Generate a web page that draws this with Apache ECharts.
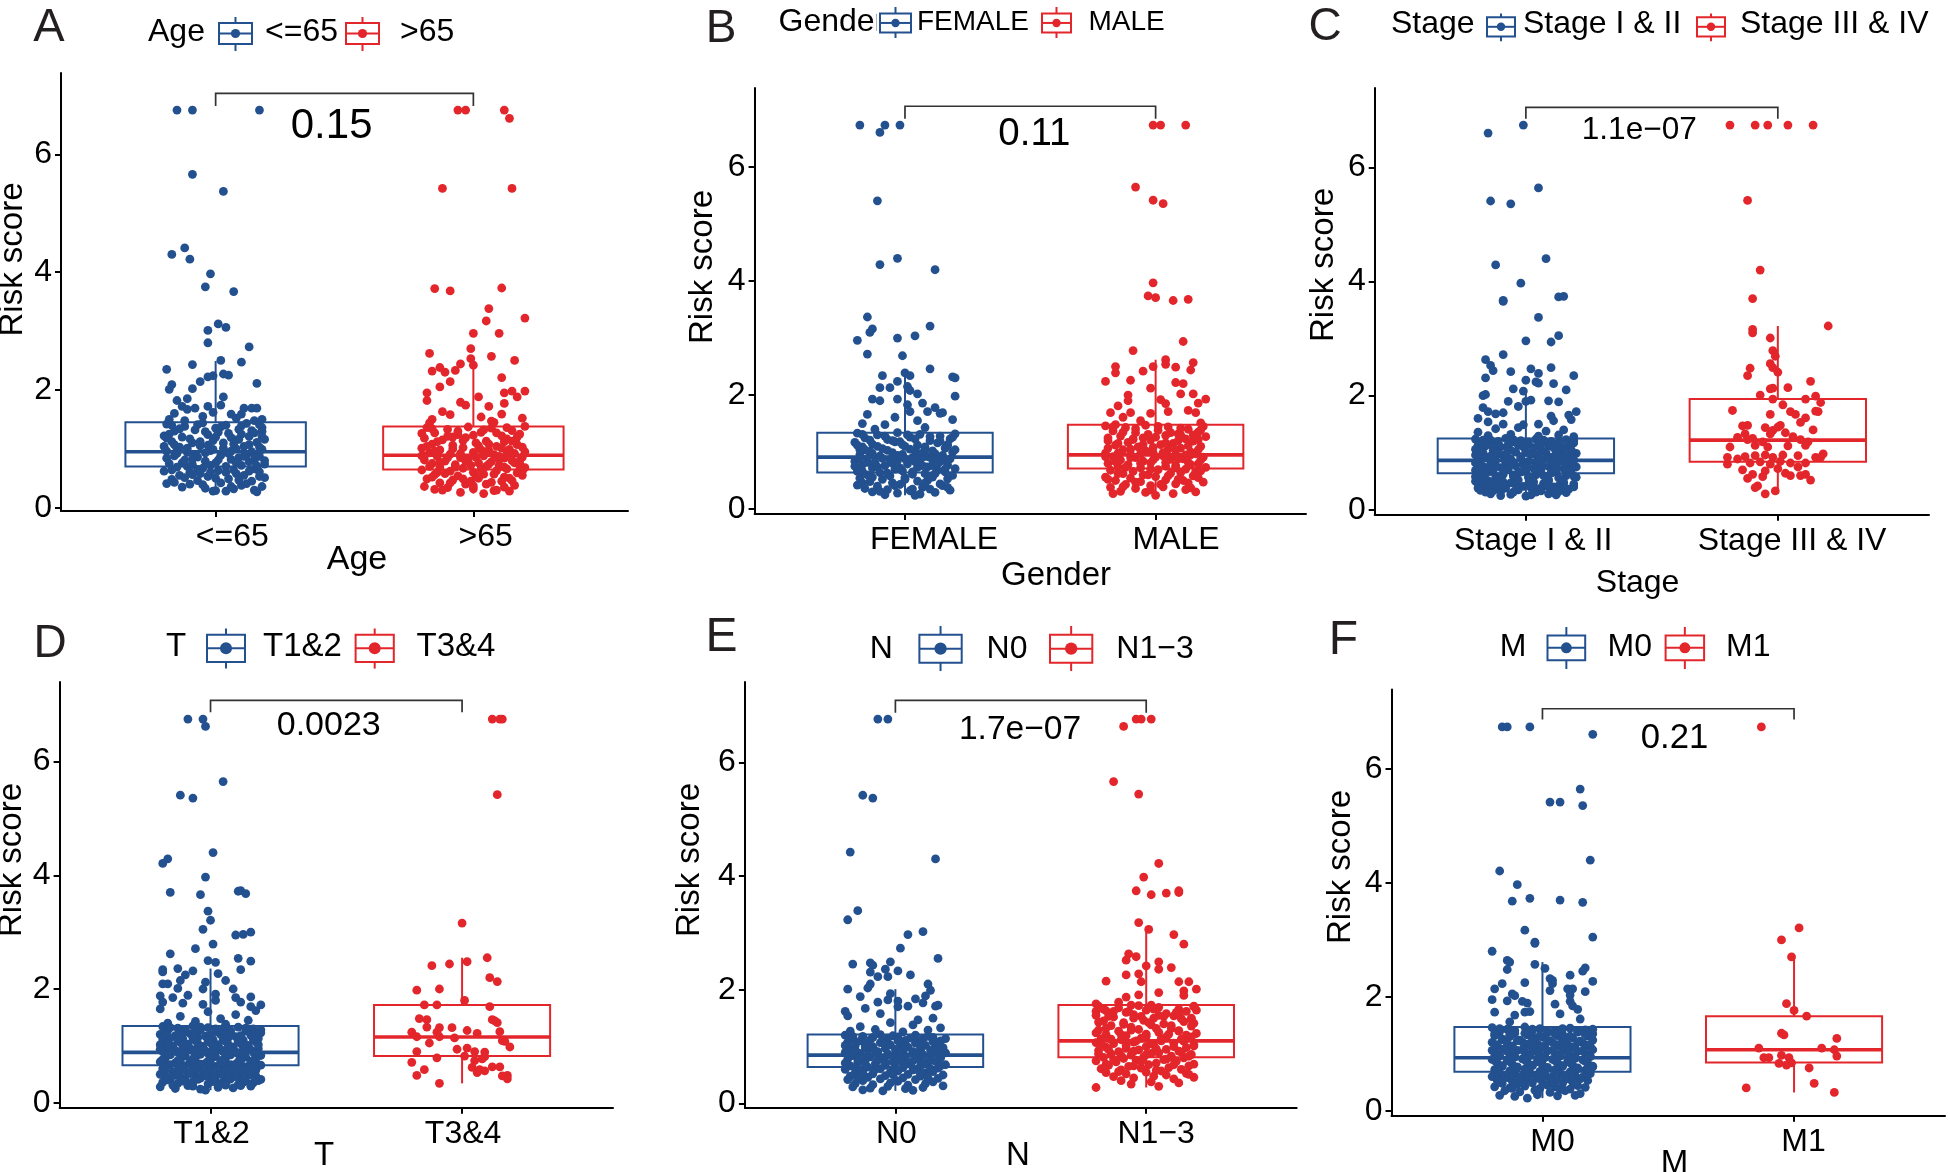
<!DOCTYPE html>
<html><head><meta charset="utf-8">
<script src="https://cdn.jsdelivr.net/npm/echarts@6/dist/echarts.min.js"></script>
<style>html,body{margin:0;padding:0;background:#fff}#c{width:1950px;height:1172px}</style>
</head><body><div id="c"></div>
<script>
// ---------------- DATA ----------------
const panelLetters = ['A','B','C','D','E','F'];
const groupTitles = ['Age','Gender','Stage','T','N','M'];
const categories = [['<=65','>65'],['FEMALE','MALE'],['Stage I & II','Stage III & IV'],['T1&2','T3&4'],['N0','N1\u22123'],['M0','M1']];
const pValues = ['0.15','0.11','1.1e\u221207','0.0023','1.7e\u221207','0.21'];
const yTickValues = [0,2,4,6];
// box stats per panel: [lower whisker, Q1, median, Q3, upper whisker]
const boxAge = [[0.27,0.70,0.95,1.45,2.49],[0.24,0.65,0.89,1.38,2.42]];
const boxGender = [[0.24,0.64,0.91,1.34,2.38],[0.24,0.71,0.95,1.48,2.62]];
const boxStage = [[0.24,0.64,0.865,1.25,2.12],[0.28,0.84,1.22,1.94,3.22]];
const boxT = [[0.22,0.66,0.885,1.35,2.36],[0.34,0.82,1.155,1.72,2.55]];
const boxN = [[0.22,0.64,0.85,1.21,2.01],[0.28,0.81,1.10,1.73,3.06]];
const boxM = [[0.22,0.685,0.93,1.47,2.61],[0.32,0.845,1.07,1.66,2.70]];
// points: [jitter offset from category, risk score]
const ptsAgeLo = [[-.15,6.75],[-.09,6.75],[.17,6.75],[-.09,5.66],[.03,5.37],[-.12,4.41],[-.17,4.30],[-.10,4.22],[-.02,3.97],[-.04,3.75],[.07,3.67],[.01,3.12],[.04,3.06],[-.03,3.01],[-.03,2.80],[.13,2.73],[-.19,2.35],[-.09,2.43],[.02,2.50],[.10,2.47],[.03,2.27],[.05,2.25],[-.01,2.24],[-.06,2.14],[.16,2.11],[-.17,2.09],[-.18,2.01],[-.09,2.02],[-.03,2.22],[-.13,1.72],[-.15,1.82],[-.11,1.85],[.03,1.88],[-.03,1.72],[.02,1.74],[.11,1.69],[.14,1.69],[.16,1.69],[-.08,1.69],[-.11,1.67],[.10,1.59],[.06,1.59],[.18,1.50],[-.18,1.50],[.15,1.48],[-.05,1.55],[.08,1.52],[-.01,1.62],[-.16,1.60],
[-.19,1.42],[-.12,1.38],[-.05,1.44],[.04,1.40],[.12,1.43],[.18,1.36],[-.16,1.30],[-.08,1.32],[.01,1.28],[.09,1.33],[.15,1.27],[-.2,1.22],[-.13,1.20],[-.03,1.24],[.06,1.19],[.13,1.21],[.19,1.16],[-.17,1.12],[-.09,1.10],[-.01,1.14],[.07,1.08],[.16,1.11],[-.14,1.03],[-.06,1.05],[.03,1.01],[.11,1.04],[.18,0.99],[-.19,0.96],[-.11,0.94],[-.02,0.97],[.05,0.92],[.14,0.95],[-.16,0.88],[-.07,0.86],[.02,0.89],[.09,0.85],[.17,0.87],[-.12,0.81],[-.04,0.79],[.06,0.82],[.13,0.78],[-.18,0.75],[-.09,0.73],[.0,0.76],[.1,0.72],[.19,0.74],[-.15,0.69],[-.05,0.67],[.04,0.70],[.15,0.66],[-.2,0.62],[-.1,0.60],[.01,0.63],[.08,0.58],[.17,0.61],[-.14,0.55],[-.03,0.53],[.11,0.55],[.19,0.51],[-.17,0.48],[-.07,0.46],[.05,0.49],[.14,0.45],[-.19,0.41],[-.1,0.40],[.02,0.42],[.1,0.38],[.18,0.36],[-.13,0.35],[-.04,0.33],[.07,0.32],[.15,0.30],[.0,0.29],[-.01,0.28],[.04,0.28],[.16,0.27],[-.08,0.90],[.08,1.15],[-.12,1.48],[.12,0.90],[-.15,1.00],[.0,1.35],[-.06,0.58],[.07,0.64],[.18,1.30],[-.18,1.25],[.1,1.25],[-.03,1.06],[.15,0.80],[-.11,0.70],
[-.17,1.40],[-.07,1.41],[.02,1.37],[.1,1.39],[.17,1.41],[-.14,1.34],[-.04,1.29],[.05,1.26],[.14,1.31],[-.19,1.18],[-.1,1.17],[.0,1.20],[.09,1.16],[.18,1.21],[-.16,1.07],[-.06,1.12],[.03,1.10],[.13,1.07],[-.2,1.04],[-.11,1.01],[-.01,0.99],[.08,1.00],[.17,1.03],[-.15,0.92],[-.04,0.93],[.06,0.96],[.15,0.90],[-.19,0.84],[-.09,0.83],[.01,0.81],[.11,0.87],[.19,0.80],[-.13,0.76],[-.02,0.72],[.08,0.76],[.16,0.71],[-.17,0.64],[-.07,0.65],[.04,0.60],[.13,0.62],[-.12,0.51],[.0,0.50],[.09,0.47],[-.16,0.43],[-.05,0.39],[.06,0.36],[.12,0.41],[-.02,0.60],[.17,0.53],[-.09,0.56]];
const ptsAgeHi = [[-.06,6.75],[-.03,6.75],[.12,6.75],[.14,6.61],[-.12,5.42],[.15,5.42],[-.15,3.72],[-.09,3.68],[.11,3.73],[.06,3.38],[.05,3.17],[.2,3.22],[.0,2.96],[.1,2.96],[-.17,2.62],[-.01,2.70],[.07,2.57],[.16,2.50],[-.01,2.53],[-.05,2.44],[.0,2.42],[-.16,2.32],[-.13,2.38],[-.11,2.30],[-.07,2.33],[-.09,2.14],[.11,2.21],[-.18,1.95],[-.13,2.05],[.15,1.98],[.2,1.98],[.12,1.95],[.17,1.88],[.02,1.88],[-.18,1.82],[-.05,1.79],[-.03,1.74],[.06,1.72],[.12,1.77],[-.12,1.63],[.03,1.54],[.11,1.59],[-.16,1.50],[.19,1.52],[-.09,1.58],[.07,1.47],
[-.18,1.36],[-.1,1.33],[-.02,1.37],[.07,1.35],[.15,1.31],[.2,1.38],[-.15,1.27],[-.06,1.24],[.03,1.28],[.11,1.22],[.18,1.25],[-.19,1.18],[-.12,1.15],[-.03,1.19],[.05,1.13],[.13,1.17],[-.16,1.08],[-.08,1.06],[.01,1.10],[.09,1.04],[.17,1.07],[-.2,1.01],[-.13,0.98],[-.04,1.02],[.06,0.97],[.14,0.99],[.2,0.95],[-.17,0.93],[-.09,0.91],[.0,0.94],[.08,0.90],[.16,0.92],[-.14,0.87],[-.05,0.85],[.04,0.88],[.12,0.84],[.19,0.86],[-.19,0.81],[-.11,0.79],[-.02,0.82],[.07,0.78],[.15,0.80],[-.16,0.75],[-.07,0.73],[.02,0.76],[.1,0.72],[.18,0.74],[-.13,0.69],[-.04,0.67],[.05,0.70],[.13,0.66],[-.2,0.64],[-.09,0.62],[.0,0.60],[.09,0.63],[.17,0.59],[-.15,0.56],[-.06,0.54],[.04,0.57],[.12,0.52],[.19,0.55],[-.18,0.49],[-.08,0.47],[.02,0.50],[.11,0.45],[-.13,0.42],[-.03,0.40],[.07,0.43],[.16,0.38],[-.19,0.36],[-.1,0.34],[.0,0.32],[.09,0.30],[.14,0.28],[-.05,0.26],[.04,0.24],[-.12,0.30],[.15,0.46],[-.17,1.44],[.08,1.45],[-.01,0.72],[.12,1.12],[-.08,1.20],[.18,0.65],[-.2,0.88],[.03,0.98],[-.14,0.60],[.1,0.82],
[-.16,1.34],[-.06,1.30],[.04,1.32],[.13,1.36],[-.2,1.26],[-.1,1.21],[.0,1.23],[.09,1.27],[.17,1.20],[-.14,1.12],[-.04,1.14],[.06,1.08],[.15,1.13],[-.18,1.04],[-.08,1.00],[.02,1.05],[.11,1.01],[.19,1.03],[-.15,0.96],[-.05,0.92],[.05,0.95],[.13,0.91],[-.19,0.88],[-.1,0.85],[.01,0.86],[.1,0.87],[.18,0.80],[-.13,0.77],[-.03,0.79],[.06,0.74],[.16,0.76],[-.17,0.70],[-.07,0.69],[.03,0.66],[.12,0.69],[.2,0.68],[-.11,0.58],[.01,0.55],[.08,0.57],[-.16,0.52],[-.04,0.49],[.14,0.50],[-.09,0.42],[.05,0.40],[.12,0.35],[-.15,0.31],[.0,0.37],[.19,0.62],[-.01,0.45],[.08,0.29]];
const ptsFemale = [[-.18,6.74],[-.1,6.61],[-.08,6.74],[-.02,6.74],[-.11,5.41],[-.1,4.29],[-.03,4.40],[.12,4.20],[-.15,3.37],[-.13,3.16],[-.14,3.10],[.1,3.21],[.04,3.04],[-.03,3.00],[-.19,2.96],[-.15,2.72],[-.01,2.69],[.1,2.46],[-.09,2.34],[.0,2.39],[.02,2.34],[-.03,2.24],[.19,2.32],[.2,2.30],[-.1,2.13],[-.06,2.13],[.01,2.15],[.02,2.08],[.05,2.02],[.2,1.98],[-.13,1.93],[-.1,1.90],[-.03,1.93],[.01,1.83],[.07,1.86],[.12,1.78],[-.15,1.66],[.02,1.71],[.09,1.71],[.14,1.68],[.15,1.69],[.19,1.57],[-.17,1.50],[-.04,1.61],[-.08,1.48],[.05,1.55],
[-.19,1.33],[-.11,1.30],[-.03,1.34],[.06,1.31],[.14,1.28],[.2,1.32],[-.16,1.25],[-.07,1.22],[.02,1.26],[.1,1.20],[.18,1.23],[-.2,1.17],[-.13,1.14],[-.04,1.18],[.05,1.12],[.13,1.16],[-.17,1.09],[-.09,1.06],[.0,1.10],[.08,1.04],[.16,1.07],[-.14,1.01],[-.05,0.99],[.04,1.02],[.12,0.97],[.19,1.00],[-.18,0.95],[-.1,0.93],[-.01,0.96],[.07,0.91],[.15,0.94],[-.15,0.89],[-.06,0.87],[.03,0.90],[.11,0.86],[.18,0.88],[-.2,0.84],[-.12,0.82],[-.03,0.85],[.06,0.80],[.14,0.83],[-.17,0.78],[-.08,0.76],[.01,0.79],[.09,0.74],[.17,0.77],[-.13,0.72],[-.04,0.70],[.05,0.73],[.13,0.68],[.2,0.71],[-.19,0.66],[-.1,0.64],[-.01,0.67],[.08,0.62],[.16,0.65],[-.15,0.60],[-.06,0.58],[.03,0.61],[.11,0.56],[.19,0.59],[-.18,0.54],[-.09,0.52],[.0,0.55],[.09,0.50],[.17,0.53],[-.14,0.48],[-.05,0.46],[.05,0.49],[.14,0.44],[-.19,0.42],[-.11,0.40],[-.02,0.43],[.07,0.38],[.15,0.41],[-.16,0.36],[-.07,0.34],[.02,0.32],[.1,0.35],[.18,0.33],[-.13,0.30],[-.03,0.28],[.06,0.26],[.12,0.29],[-.08,0.25],[.04,0.24],[-.12,1.40],[.08,1.43],[-.02,1.18],[.17,1.13],[-.18,1.04],[.11,0.76],
[-.17,1.31],[-.08,1.28],[.01,1.30],[.1,1.27],[.19,1.26],[-.14,1.21],[-.05,1.20],[.04,1.23],[.14,1.19],[-.19,1.12],[-.11,1.10],[-.01,1.13],[.08,1.09],[.17,1.11],[-.16,1.04],[-.07,1.03],[.02,1.05],[.11,1.02],[.2,1.04],[-.13,0.97],[-.03,0.94],[.06,0.97],[.15,0.92],[-.18,0.90],[-.09,0.89],[.0,0.88],[.09,0.92],[.17,0.85],[-.15,0.82],[-.05,0.80],[.04,0.83],[.13,0.79],[-.2,0.75],[-.11,0.74],[-.02,0.72],[.07,0.76],[.16,0.70],[-.17,0.66],[-.07,0.63],[.03,0.65],[.12,0.62],[-.13,0.56],[.0,0.52],[.1,0.57],[-.17,0.46],[-.04,0.41],[.08,0.46],[.17,0.38],[-.1,0.31],[.03,0.35]];
const ptsMale = [[-.01,6.74],[.02,6.74],[.12,6.74],[-.08,5.65],[-.01,5.42],[.03,5.36],[-.01,3.97],[-.03,3.74],[.0,3.71],[.07,3.66],[.13,3.68],[.11,2.94],[-.09,2.78],[.04,2.62],[.04,2.54],[.15,2.57],[-.16,2.50],[-.01,2.50],[.08,2.49],[-.05,2.42],[.14,2.44],[-.16,2.39],[-.1,2.26],[-.2,2.24],[.08,2.22],[.11,2.20],[-.02,2.12],[-.11,2.00],[.1,2.02],[.15,2.02],[.2,1.93],[.02,1.92],[-.11,1.90],[.17,1.86],[-.15,1.81],[.04,1.85],[-.18,1.69],[-.1,1.69],[-.02,1.68],[.13,1.73],[.16,1.69],[-.13,1.61],[.05,1.71],[-.06,1.55],[.18,1.51],[-.16,1.48],
[-.2,1.46],[-.12,1.43],[-.04,1.47],[.05,1.44],[.13,1.40],[.19,1.45],[-.17,1.37],[-.08,1.34],[.01,1.38],[.09,1.32],[.17,1.35],[-.14,1.28],[-.05,1.25],[.04,1.29],[.12,1.23],[.2,1.27],[-.19,1.20],[-.11,1.17],[-.02,1.21],[.07,1.15],[.15,1.19],[-.16,1.12],[-.07,1.09],[.02,1.13],[.1,1.07],[.18,1.10],[-.13,1.04],[-.04,1.02],[.05,1.05],[.14,1.00],[-.2,0.98],[-.1,0.96],[-.01,0.99],[.08,0.94],[.16,0.97],[-.17,0.92],[-.08,0.90],[.03,0.93],[.11,0.88],[.19,0.91],[-.14,0.86],[-.05,0.84],[.06,0.87],[.13,0.82],[-.19,0.80],[-.11,0.78],[-.02,0.81],[.08,0.76],[.17,0.79],[-.15,0.74],[-.06,0.72],[.04,0.75],[.12,0.70],[.2,0.73],[-.18,0.68],[-.09,0.66],[.01,0.69],[.1,0.64],[.18,0.67],[-.13,0.62],[-.03,0.60],[.06,0.63],[.15,0.58],[-.2,0.56],[-.1,0.54],[.0,0.57],[.09,0.52],[.17,0.55],[-.16,0.50],[-.06,0.48],[.04,0.51],[.13,0.46],[-.12,0.43],[-.02,0.41],[.08,0.44],[.19,0.47],[-.18,0.38],[-.08,0.36],[.03,0.39],[.12,0.34],[-.14,0.31],[-.04,0.29],[.07,0.27],[.16,0.30],[-.17,0.27],[.0,0.24],[.1,1.30],[-.09,1.22],[.14,0.95],[-.01,0.86],
[-.17,1.44],[-.08,1.41],[.01,1.45],[.1,1.42],[.18,1.39],[-.13,1.35],[-.03,1.31],[.06,1.34],[.15,1.30],[-.19,1.25],[-.09,1.23],[.0,1.26],[.09,1.20],[.17,1.22],[-.15,1.15],[-.05,1.13],[.04,1.16],[.13,1.11],[-.19,1.07],[-.1,1.05],[-.01,1.08],[.08,1.03],[.17,1.04],[-.15,0.98],[-.06,0.97],[.03,0.99],[.12,0.95],[-.2,0.92],[-.1,0.90],[.0,0.91],[.09,0.88],[.18,0.86],[-.16,0.83],[-.06,0.80],[.04,0.82],[.14,0.78],[-.12,0.73],[-.02,0.70],[.08,0.72],[.16,0.66],[-.15,0.62],[-.05,0.60],[.05,0.58],[-.19,0.52],[-.08,0.47],[.11,0.50],[.02,0.43],[-.13,0.39],[.14,0.37],[-.02,0.33]];
const ptsStage12 = [[-.15,6.60],[-.01,6.74],[.05,5.64],[-.14,5.41],[-.06,5.36],[.08,4.40],[-.12,4.29],[-.02,3.97],[-.09,3.67],[-.09,3.65],[.13,3.73],[.15,3.74],[.05,3.37],[.13,3.05],[.0,2.96],[.1,2.94],[-.09,2.72],[-.16,2.63],[-.14,2.53],[-.13,2.44],[-.06,2.42],[.02,2.47],[.1,2.49],[.05,2.39],[.19,2.35],[-.16,2.31],[.0,2.27],[.04,2.24],[.05,2.22],[.11,2.21],[-.05,2.12],[-.01,2.08],[.16,2.10],[-.17,2.00],[-.16,2.02],[-.07,1.90],[.0,1.90],[.02,1.92],[.13,1.89],[.09,1.91],[-.17,1.79],[-.15,1.72],[-.09,1.70],[-.12,1.68],[-.03,1.81],[.2,1.72],[.17,1.66],[.18,1.58],[-.19,1.60],[-.15,1.54],[.1,1.64],[.11,1.56],[.05,1.50],[-.01,1.49],[-.09,1.50],
[-.2,1.24],[-.14,1.22],[-.08,1.25],[-.02,1.21],[.04,1.24],[.1,1.20],[.16,1.23],[-.18,1.18],[-.11,1.16],[-.05,1.19],[.01,1.15],[.07,1.18],[.13,1.14],[.19,1.17],[-.16,1.12],[-.1,1.10],[-.03,1.13],[.03,1.09],[.09,1.12],[.15,1.08],[-.2,1.06],[-.13,1.04],[-.07,1.07],[.0,1.03],[.06,1.06],[.12,1.02],[.18,1.05],[-.17,1.00],[-.11,0.98],[-.04,1.01],[.02,0.97],[.08,1.00],[.14,0.96],[.2,0.99],[-.19,0.94],[-.15,0.92],[-.09,0.95],[-.02,0.91],[.05,0.94],[.11,0.90],[.17,0.93],[-.18,0.88],[-.12,0.86],[-.06,0.89],[.01,0.85],[.07,0.88],[.13,0.84],[.19,0.87],[-.2,0.82],[-.14,0.80],[-.08,0.83],[-.01,0.79],[.04,0.82],[.1,0.78],[.16,0.81],[-.17,0.76],[-.1,0.74],[-.04,0.77],[.03,0.73],[.09,0.76],[.15,0.72],[.2,0.75],[-.19,0.70],[-.13,0.68],[-.07,0.71],[.0,0.67],[.06,0.70],[.12,0.66],[.18,0.69],[-.16,0.64],[-.09,0.62],[-.03,0.65],[.04,0.61],[.1,0.64],[.16,0.60],[-.2,0.58],[-.12,0.56],[-.05,0.59],[.02,0.55],[.08,0.58],[.14,0.54],[.2,0.57],[-.17,0.52],[-.11,0.50],[-.04,0.53],[.03,0.49],[.09,0.52],[.15,0.48],[-.19,0.46],[-.13,0.44],[-.06,0.47],[.01,0.43],[.07,0.46],[.13,0.42],[.19,0.45],[-.15,0.40],[-.08,0.38],[-.01,0.41],[.05,0.37],[.11,0.40],[.17,0.36],[-.18,0.34],[-.1,0.32],[-.03,0.35],[.04,0.31],[.1,0.34],[.16,0.30],[-.14,0.28],[-.06,0.27],[.02,0.26],[.09,0.28],[-.1,0.25],[-.16,0.31],[.12,0.26],[.0,0.24],[-.15,1.30],[-.06,1.32],[.05,1.29],[.13,1.31],[.19,1.28],[-.19,1.36],[.08,1.38],[-.12,1.42],[.15,1.40],[-.03,1.44],[-.08,0.97],[.06,0.86],[-.14,0.72],[.14,1.11],
[-.17,1.22],[-.11,1.20],[-.05,1.23],[.01,1.19],[.07,1.22],[.13,1.18],[.19,1.21],[-.19,1.13],[-.13,1.11],[-.07,1.14],[-.01,1.10],[.05,1.13],[.11,1.09],[.17,1.12],[-.18,1.03],[-.12,1.01],[-.06,1.04],[.0,1.00],[.06,1.03],[.12,0.99],[.18,1.02],[-.2,0.96],[-.14,0.94],[-.08,0.97],[-.02,0.93],[.04,0.96],[.1,0.92],[.16,0.95],[-.19,0.86],[-.13,0.84],[-.07,0.87],[-.01,0.83],[.05,0.86],[.11,0.82],[.17,0.85],[-.18,0.78],[-.12,0.76],[-.06,0.79],[.0,0.75],[.06,0.78],[.12,0.74],[.18,0.77],[-.2,0.69],[-.14,0.67],[-.08,0.70],[-.02,0.66],[.04,0.69],[.1,0.65],[.16,0.68],[-.17,0.60],[-.11,0.58],[-.05,0.61],[.01,0.57],[.07,0.60],[.13,0.56],[.19,0.59],[-.15,0.51],[-.09,0.49],[-.03,0.52],[.03,0.48],[.09,0.51],[.15,0.47],[-.17,0.42],[-.11,0.40],[-.04,0.43],[.02,0.39],[.08,0.42],[.14,0.38],[-.13,0.33],[-.05,0.31],[.06,0.33],[.13,0.32],[-.19,0.38],[.19,0.40],[-.2,0.50]];
const ptsStage34 = [[-.19,6.74],[-.09,6.74],[-.04,6.74],[.04,6.74],[.14,6.74],[-.12,5.42],[-.07,4.20],[-.1,3.70],[.2,3.22],[-.1,3.16],[-.1,3.10],[-.03,3.01],[-.02,2.79],[-.01,2.69],[-.03,2.56],[-.02,2.49],[-.11,2.48],[-.12,2.35],[.0,2.41],[.13,2.25],[.04,2.14],[-.03,2.12],[-.02,2.13],[-.07,2.01],[.15,1.99],[-.02,1.94],[.11,1.94],[.17,1.88],[.02,1.84],[.16,1.72],[.15,1.73],[.05,1.72],[.07,1.67],[-.18,1.74],[-.03,1.67],[.11,1.61],[.09,1.53],[-.14,1.47],[-.12,1.48],[.01,1.48],[.0,1.45],[-.02,1.39],[-.05,1.44],[.14,1.40],[-.13,1.33],[-.03,1.33],[.03,1.35],[-.16,1.27],[-.12,1.23],[-.1,1.25],[-.06,1.19],[.06,1.28],[.09,1.23],[.12,1.19],[-.19,1.10],[-.09,1.13],[-.04,1.10],[.04,1.12],[.11,1.13],[.18,0.98],[-.2,0.92],[-.13,0.93],[-.09,0.95],[-.05,0.96],[-.02,0.92],[.02,0.96],[.08,0.95],[.15,0.92],[.17,0.92],[-.2,0.80],[-.16,0.89],[-.11,0.82],[-.07,0.84],[-.03,0.80],[.01,0.85],[.05,0.82],[.11,0.82],[.08,0.75],[-.14,0.70],[-.1,0.62],[-.05,0.68],[.0,0.72],[.03,0.64],[.09,0.60],[.11,0.62],[.05,0.60],[-.12,0.55],[-.06,0.58],[.13,0.52],[-.08,0.42],[-.09,0.39],[-.05,0.28],[-.01,0.33]];
const ptsT12 = [[-.09,6.75],[-.03,6.75],[-.02,6.62],[.05,5.65],[-.12,5.41],[-.07,5.36],[.01,4.40],[-.17,4.29],[-.19,4.21],[-.02,3.97],[-.16,3.70],[-.04,3.66],[.11,3.72],[.12,3.73],[.14,3.68],[-.01,3.37],[.0,3.21],[-.03,3.05],[.1,2.95],[.13,2.96],[.16,3.00],[.01,2.79],[-.06,2.71],[-.16,2.62],[.11,2.54],[.16,2.49],[-.01,2.50],[.02,2.47],[.12,2.34],[-.13,2.36],[-.07,2.32],[-.19,2.34],[-.19,2.30],[-.1,2.25],[.03,2.27],[.06,2.15],[-.12,2.15],[-.02,2.12],[-.19,2.09],[-.17,2.09],[-.13,2.01],[-.03,2.00],[.09,2.00],[.02,1.91],[-.2,1.88],[-.15,1.85],[-.09,1.89],[.1,1.85],[.16,1.86],[.12,1.77],[-.19,1.77],[-.11,1.75],[-.03,1.73],[.02,1.80],[.2,1.72],[.16,1.69],
[-.19,1.34],[-.13,1.31],[-.07,1.35],[-.01,1.32],[.05,1.29],[.11,1.33],[.17,1.30],[-.17,1.27],[-.1,1.24],[-.04,1.28],[.02,1.25],[.08,1.22],[.14,1.26],[.2,1.23],[-.2,1.20],[-.14,1.18],[-.08,1.21],[-.02,1.17],[.04,1.20],[.1,1.16],[.16,1.19],[-.16,1.14],[-.11,1.12],[-.05,1.15],[.01,1.11],[.07,1.14],[.13,1.10],[.19,1.13],[-.18,1.08],[-.12,1.06],[-.06,1.09],[.0,1.05],[.06,1.08],[.12,1.04],[.18,1.07],[-.2,1.02],[-.15,1.00],[-.09,1.03],[-.03,0.99],[.03,1.02],[.09,0.98],[.15,1.01],[-.17,0.96],[-.11,0.94],[-.05,0.97],[.01,0.93],[.07,0.96],[.13,0.92],[.19,0.95],[-.19,0.90],[-.13,0.88],[-.07,0.91],[-.01,0.87],[.05,0.90],[.11,0.86],[.17,0.89],[-.16,0.84],[-.1,0.82],[-.04,0.85],[.02,0.81],[.08,0.84],[.14,0.80],[.2,0.83],[-.18,0.78],[-.12,0.76],[-.06,0.79],[.0,0.75],[.06,0.78],[.12,0.74],[.18,0.77],[-.2,0.72],[-.14,0.70],[-.08,0.73],[-.02,0.69],[.04,0.72],[.1,0.68],[.16,0.71],[-.17,0.66],[-.11,0.64],[-.05,0.67],[.01,0.63],[.07,0.66],[.13,0.62],[.19,0.65],[-.19,0.60],[-.13,0.58],[-.07,0.61],[-.01,0.57],[.05,0.60],[.11,0.56],[.17,0.59],[-.15,0.54],[-.09,0.52],[-.03,0.55],[.03,0.51],[.09,0.54],[.15,0.50],[-.18,0.48],[-.12,0.46],[-.06,0.49],[.0,0.45],[.06,0.48],[.12,0.44],[.18,0.47],[-.16,0.42],[-.1,0.40],[-.04,0.43],[.02,0.39],[.08,0.42],[.14,0.38],[.2,0.41],[-.19,0.36],[-.13,0.34],[-.07,0.37],[-.01,0.33],[.05,0.36],[.11,0.32],[.17,0.35],[-.2,0.28],[-.14,0.25],[-.09,0.30],[-.04,0.24],[.03,0.27],[.09,0.26],[.16,0.29],[-.02,0.22],[-.17,1.40],[-.06,1.43],[.06,1.38],[.15,1.45],[-.12,1.52],[.1,1.55],[-.01,1.60],[.18,1.62],[-.2,1.65],[.04,1.48],
[-.16,1.32],[-.1,1.29],[-.04,1.33],[.02,1.30],[.08,1.27],[.14,1.31],[.2,1.28],[-.18,1.22],[-.12,1.20],[-.06,1.23],[.0,1.19],[.06,1.22],[.12,1.18],[.18,1.21],[-.19,1.12],[-.13,1.10],[-.07,1.13],[-.01,1.09],[.05,1.12],[.11,1.08],[.17,1.11],[-.17,1.03],[-.11,1.01],[-.05,1.04],[.01,1.00],[.07,1.03],[.13,0.99],[.19,1.02],[-.2,0.94],[-.14,0.92],[-.08,0.95],[-.02,0.91],[.04,0.94],[.1,0.90],[.16,0.93],[-.17,0.85],[-.11,0.83],[-.05,0.86],[.01,0.82],[.07,0.85],[.13,0.81],[.19,0.84],[-.19,0.76],[-.13,0.74],[-.07,0.77],[-.01,0.73],[.05,0.76],[.11,0.72],[.17,0.75],[-.16,0.67],[-.1,0.65],[-.04,0.68],[.02,0.64],[.08,0.67],[.14,0.63],[.2,0.66],[-.18,0.58],[-.12,0.56],[-.06,0.59],[.0,0.55],[.06,0.58],[.12,0.54],[.18,0.57],[-.2,0.50],[-.14,0.48],[-.08,0.51],[-.02,0.47],[.04,0.50],[.1,0.46],[.16,0.49],[-.17,0.40],[-.11,0.38],[-.05,0.41],[.01,0.37],[.07,0.40],[.13,0.36],[.19,0.39],[-.15,0.31],[-.07,0.29],[.06,0.31],[.12,0.30]];
const ptsT34 = [[.12,6.75],[.16,6.75],[.15,6.75],[.14,5.42],[.0,3.16],[-.12,2.41],[-.05,2.44],[.02,2.48],[.1,2.55],[.11,2.20],[.14,2.13],[-.18,1.98],[-.09,2.00],[.01,1.80],[-.15,1.72],[-.1,1.72],[.11,1.69],[-.17,1.48],[-.14,1.46],[.13,1.44],[.14,1.41],[.12,1.46],[-.09,1.32],[-.04,1.32],[-.14,1.33],[-.1,1.24],[.02,1.27],[.06,1.22],[-.2,1.24],[.15,1.25],[-.18,1.16],[-.13,1.05],[-.09,1.16],[-.03,1.14],[.17,1.08],[.19,0.98],[.16,1.09],[.02,0.96],[-.02,0.94],[-.18,0.90],[.05,0.90],[.09,0.89],[.01,0.82],[.09,0.81],[-.1,0.79],[.05,0.74],[.08,0.77],[-.2,0.71],[-.15,0.58],[.04,0.62],[.07,0.58],[.09,0.56],[.12,0.63],[.15,0.63],[-.18,0.48],[.06,0.53],[.16,0.47],[.18,0.48],[.18,0.42],[-.09,0.34]];
const ptsN0 = [[-.07,6.76],[-.03,6.76],[-.13,5.42],[-.09,5.37],[-.18,4.42],[.16,4.30],[-.15,3.39],[-.19,3.23],[.11,3.02],[.05,2.97],[.02,2.73],[.17,2.55],[-.17,2.45],[-.02,2.49],[-.1,2.47],[-.09,2.43],[-.04,2.36],[.01,2.33],[-.1,2.31],[.06,2.26],[-.07,2.23],[-.03,2.23],[-.19,2.01],[-.1,2.10],[.13,2.10],[.14,1.99],[-.11,2.03],[-.14,1.88],[-.02,1.93],[.08,1.84],[.12,1.89],[-.07,1.78],[-.03,1.82],[.01,1.80],[.11,1.77],[.17,1.73],[.16,1.71],[-.12,1.67],[.01,1.70],[.05,1.71],[-.2,1.62],[-.19,1.54],[-.06,1.58],[.15,1.50],[.09,1.47],
[-.2,1.20],[-.13,1.18],[-.06,1.21],[.01,1.17],[.08,1.20],[.15,1.16],[-.17,1.14],[-.1,1.12],[-.03,1.15],[.04,1.11],[.11,1.14],[.18,1.10],[-.19,1.08],[-.12,1.06],[-.05,1.09],[.02,1.05],[.09,1.08],[.16,1.04],[-.16,1.02],[-.09,1.00],[-.02,1.03],[.05,0.99],[.12,1.02],[.19,0.98],[-.18,0.96],[-.11,0.94],[-.04,0.97],[.03,0.93],[.1,0.96],[.17,0.92],[-.2,0.90],[-.14,0.88],[-.07,0.91],[.0,0.87],[.07,0.90],[.14,0.86],[.2,0.89],[-.17,0.84],[-.1,0.82],[-.03,0.85],[.04,0.81],[.11,0.84],[.18,0.80],[-.19,0.78],[-.12,0.76],[-.05,0.79],[.02,0.75],[.09,0.78],[.16,0.74],[-.15,0.72],[-.08,0.70],[-.01,0.73],[.06,0.69],[.13,0.72],[.2,0.68],[-.18,0.66],[-.11,0.64],[-.04,0.67],[.03,0.63],[.1,0.66],[.17,0.62],[-.2,0.60],[-.13,0.58],[-.06,0.61],[.01,0.57],[.08,0.60],[.15,0.56],[-.16,0.54],[-.09,0.52],[-.02,0.55],[.05,0.51],[.12,0.54],[.19,0.50],[-.18,0.48],[-.11,0.46],[-.04,0.49],[.03,0.45],[.1,0.48],[.17,0.44],[-.19,0.42],[-.13,0.40],[-.06,0.43],[.01,0.39],[.08,0.42],[.15,0.38],[-.16,0.35],[-.09,0.33],[-.02,0.36],[.05,0.32],[.12,0.35],[.19,0.31],[-.17,0.29],[-.1,0.27],[-.03,0.30],[.04,0.26],[.11,0.28],[-.13,0.24],[-.05,0.22],[.07,0.23],[-.18,1.27],[-.08,1.30],[.03,1.26],[.13,1.29],[-.14,1.35],[.07,1.38],[.18,1.33],[-.02,1.42],[.1,0.93],[-.12,0.98],
[-.17,1.18],[-.09,1.16],[-.01,1.19],[.06,1.15],[.13,1.18],[.2,1.14],[-.14,1.10],[-.06,1.07],[.01,1.10],[.08,1.06],[.15,1.09],[-.2,1.02],[-.12,1.00],[-.04,1.03],[.03,0.99],[.1,1.01],[.17,0.97],[-.16,0.94],[-.08,0.92],[.0,0.95],[.07,0.91],[.14,0.94],[-.19,0.86],[-.11,0.84],[-.03,0.87],[.04,0.83],[.11,0.86],[.18,0.82],[-.15,0.78],[-.07,0.76],[.0,0.79],[.07,0.75],[.14,0.77],[-.2,0.71],[-.12,0.69],[-.04,0.72],[.04,0.68],[.11,0.70],[.18,0.66],[-.16,0.62],[-.08,0.60],[.0,0.63],[.07,0.59],[.14,0.61],[-.13,0.53],[-.01,0.51],[.1,0.52],[-.15,0.44],[.0,0.41],[.13,0.45]];
const ptsN13 = [[-.09,6.63],[-.04,6.76],[-.02,6.76],[.02,6.76],[-.13,5.66],[-.03,5.44],[.05,4.22],[-.01,3.98],[-.04,3.74],[.02,3.67],[.08,3.70],[.13,3.74],[.13,3.71],[-.03,3.18],[.01,3.06],[.11,2.97],[.15,2.80],[-.07,2.63],[-.04,2.58],[-.08,2.52],[.05,2.49],[.0,2.42],[.1,2.39],[.05,2.36],[-.08,2.26],[-.03,2.28],[-.16,2.15],[-.02,2.14],[.13,2.14],[.17,2.14],[.15,1.98],[.2,2.01],[.05,1.95],[-.08,1.87],[-.03,1.91],[.15,1.90],[-.2,1.75],[-.11,1.78],[-.06,1.73],[.02,1.73],[.19,1.71],[-.2,1.62],[-.13,1.62],[-.02,1.53],[.07,1.53],[.13,1.57],[.18,1.50],
[-.19,1.71],[-.11,1.68],[-.03,1.72],[.05,1.69],[.13,1.66],[.19,1.70],[-.16,1.63],[-.08,1.60],[.0,1.64],[.08,1.58],[.16,1.62],[-.2,1.55],[-.13,1.52],[-.05,1.56],[.03,1.50],[.11,1.54],[.18,1.48],[-.17,1.45],[-.09,1.42],[-.01,1.46],[.07,1.40],[.15,1.44],[-.14,1.37],[-.06,1.34],[.02,1.38],[.1,1.32],[.18,1.36],[-.19,1.29],[-.11,1.27],[-.03,1.30],[.05,1.25],[.13,1.28],[.2,1.23],[-.16,1.21],[-.08,1.19],[.0,1.22],[.08,1.17],[.16,1.20],[-.18,1.14],[-.1,1.12],[-.02,1.15],[.06,1.10],[.14,1.13],[-.2,1.07],[-.13,1.05],[-.05,1.08],[.03,1.03],[.11,1.06],[.19,1.01],[-.16,0.99],[-.08,0.97],[.0,1.00],[.08,0.95],[.16,0.98],[-.19,0.93],[-.11,0.91],[-.03,0.94],[.05,0.89],[.13,0.92],[-.14,0.87],[-.06,0.85],[.02,0.88],[.1,0.83],[.18,0.86],[-.17,0.81],[-.09,0.79],[-.01,0.82],[.07,0.77],[.15,0.80],[-.2,0.75],[-.12,0.73],[-.04,0.76],[.04,0.71],[.12,0.74],[.19,0.69],[-.15,0.67],[-.07,0.65],[.01,0.68],[.09,0.63],[.17,0.66],[-.18,0.61],[-.1,0.59],[-.02,0.62],[.06,0.57],[.14,0.60],[-.16,0.54],[-.08,0.52],[.0,0.55],[.08,0.50],[.16,0.53],[-.13,0.47],[-.05,0.45],[.03,0.48],[.11,0.43],[.19,0.46],[-.1,0.40],[.02,0.38],[-.2,0.28],[.13,0.36],[-.06,0.34],[.05,0.30],
[-.17,1.66],[-.07,1.62],[.03,1.66],[.12,1.60],[.2,1.64],[-.15,1.53],[-.05,1.50],[.05,1.55],[.14,1.49],[-.19,1.43],[-.09,1.39],[.01,1.42],[.1,1.37],[.19,1.41],[-.16,1.32],[-.06,1.29],[.04,1.32],[.13,1.27],[-.2,1.24],[-.1,1.21],[.0,1.18],[.09,1.22],[.18,1.17],[-.14,1.13],[-.04,1.10],[.06,1.14],[.15,1.09],[-.18,1.05],[-.08,1.02],[.02,1.05],[.11,1.00],[.19,1.03],[-.15,0.95],[-.05,0.92],[.04,0.96],[.14,0.90],[-.19,0.87],[-.1,0.84],[.0,0.86],[.1,0.81],[.17,0.83],[-.13,0.77],[-.02,0.74],[.08,0.78],[-.16,0.69],[-.05,0.66],[.11,0.68],[-.11,0.56],[.04,0.58],[.17,0.51]];
const ptsM0 = [[-.16,6.74],[-.14,6.74],[-.05,6.74],[.2,6.61],[.15,5.65],[.03,5.42],[.07,5.42],[.16,5.36],[.19,4.40],[-.17,4.21],[-.1,3.97],[-.12,3.68],[-.05,3.73],[.07,3.70],[.16,3.66],[-.07,3.17],[.2,3.05],[-.03,2.96],[-.03,2.94],[-.2,2.80],[-.14,2.64],[-.13,2.61],[-.03,2.57],[.01,2.50],[.17,2.51],[.16,2.45],[-.14,2.48],[.11,2.38],[.03,2.32],[.04,2.29],[.2,2.27],[-.16,2.23],[-.07,2.25],[.04,2.23],[-.19,2.14],[.1,2.14],[.12,2.14],[.17,2.09],[.03,2.11],[-.12,2.05],[-.11,2.02],[-.2,1.95],[-.14,1.93],[-.08,1.92],[.11,2.03],[.11,1.92],[-.06,1.89],[.05,1.87],[.12,1.84],[-.19,1.73],[-.07,1.73],[-.05,1.74],[.14,1.78],[-.11,1.68],[.15,1.61],[.07,1.70],[-.13,1.56],
[-.2,1.46],[-.14,1.43],[-.07,1.47],[-.01,1.44],[.05,1.41],[.11,1.45],[.17,1.42],[-.17,1.39],[-.11,1.36],[-.04,1.40],[.02,1.37],[.08,1.34],[.14,1.38],[.2,1.35],[-.19,1.32],[-.13,1.30],[-.06,1.33],[.0,1.29],[.06,1.32],[.12,1.28],[.18,1.31],[-.16,1.26],[-.09,1.24],[-.03,1.27],[.03,1.23],[.09,1.26],[.15,1.22],[-.2,1.20],[-.14,1.18],[-.08,1.21],[-.02,1.17],[.04,1.20],[.1,1.16],[.16,1.19],[-.18,1.14],[-.12,1.12],[-.05,1.15],[.01,1.11],[.07,1.14],[.13,1.10],[.19,1.13],[-.16,1.08],[-.1,1.06],[-.04,1.09],[.02,1.05],[.08,1.08],[.14,1.04],[.2,1.07],[-.19,1.02],[-.13,1.00],[-.07,1.03],[-.01,0.99],[.05,1.02],[.11,0.98],[.17,1.01],[-.17,0.96],[-.11,0.94],[-.05,0.97],[.01,0.93],[.07,0.96],[.13,0.92],[.19,0.95],[-.2,0.90],[-.14,0.88],[-.08,0.91],[-.02,0.87],[.04,0.90],[.1,0.86],[.16,0.89],[-.18,0.84],[-.12,0.82],[-.06,0.85],[.0,0.81],[.06,0.84],[.12,0.80],[.18,0.83],[-.16,0.78],[-.1,0.76],[-.04,0.79],[.02,0.75],[.08,0.78],[.14,0.74],[.2,0.77],[-.19,0.72],[-.13,0.70],[-.07,0.73],[-.01,0.69],[.05,0.72],[.11,0.68],[.17,0.71],[-.17,0.66],[-.11,0.64],[-.05,0.67],[.01,0.63],[.07,0.66],[.13,0.62],[.19,0.65],[-.2,0.60],[-.14,0.58],[-.08,0.61],[-.02,0.57],[.04,0.60],[.1,0.56],[.16,0.59],[-.18,0.54],[-.12,0.52],[-.06,0.55],[.0,0.51],[.06,0.54],[.12,0.50],[.18,0.53],[-.16,0.48],[-.1,0.46],[-.04,0.49],[.02,0.45],[.08,0.48],[.14,0.44],[-.19,0.42],[-.13,0.40],[-.07,0.43],[-.01,0.39],[.05,0.42],[.11,0.38],[.17,0.41],[-.15,0.35],[-.09,0.33],[-.03,0.36],[.03,0.32],[.09,0.35],[.15,0.30],[-.17,0.27],[-.11,0.25],[-.02,0.28],[.06,0.26],[-.06,0.22],[.13,0.27],
[-.17,1.44],[-.11,1.41],[-.04,1.43],[.02,1.40],[.08,1.44],[.14,1.40],[.2,1.43],[-.19,1.35],[-.13,1.33],[-.07,1.36],[-.01,1.32],[.05,1.35],[.11,1.31],[.17,1.34],[-.16,1.25],[-.1,1.23],[-.04,1.26],[.02,1.22],[.08,1.25],[.14,1.21],[.2,1.24],[-.18,1.16],[-.12,1.14],[-.06,1.17],[.0,1.13],[.06,1.16],[.12,1.12],[.18,1.15],[-.2,1.06],[-.14,1.04],[-.08,1.07],[-.02,1.03],[.04,1.06],[.1,1.02],[.16,1.05],[-.17,0.97],[-.11,0.95],[-.05,0.98],[.01,0.94],[.07,0.97],[.13,0.93],[.19,0.96],[-.19,0.88],[-.13,0.86],[-.07,0.89],[-.01,0.85],[.05,0.88],[.11,0.84],[.17,0.87],[-.16,0.79],[-.1,0.77],[-.04,0.80],[.02,0.76],[.08,0.79],[.14,0.75],[.2,0.78],[-.18,0.70],[-.12,0.68],[-.06,0.71],[.0,0.67],[.06,0.70],[.12,0.66],[.18,0.69],[-.15,0.60],[-.09,0.58],[-.03,0.61],[.03,0.57],[.09,0.60],[.15,0.56],[-.17,0.51],[-.08,0.49],[.04,0.50],[.13,0.47],[-.12,0.39],[.07,0.37],[-.02,0.33]];
const ptsM1 = [[-.13,6.74],[.02,3.21],[-.05,3.00],[-.01,2.70],[-.03,1.88],[.0,1.76],[.05,1.66],[-.05,1.36],[-.04,1.33],[.17,1.27],[-.14,1.10],[.11,1.10],[.16,1.07],[-.12,0.93],[-.1,0.93],[-.05,0.97],[-.02,0.93],[.17,0.96],[-.06,0.83],[-.03,0.80],[-.01,0.84],[.06,0.75],[.08,0.48],[-.19,0.40],[.16,0.32]];

const panelPoints = [[ptsAgeLo,ptsAgeHi],[ptsFemale,ptsMale],[ptsStage12,ptsStage34],[ptsT12,ptsT34],[ptsN0,ptsN13],[ptsM0,ptsM1]];
const panelBoxes = [boxAge,boxGender,boxStage,boxT,boxN,boxM];

// ---------------- LAYOUT / STYLE ----------------
const FONT = '"Liberation Sans", Arial, Helvetica, sans-serif';
const COLORS = ['#23508F','#E3262B'];
const INK = '#000';
const layout = [
 {grid:[61,73,567,438], y:[-0.056,7.38], br:[7.035,6.82], pt:[1.45,6.48], pfs:42, shift:[16.6,12.4],
  letter:[49,28,47], ytitle:[13,259.5], xtitle:[357,560,34],
  leg:{ty:32, fs:32, tfs:32, title:148, icons:[[219,252],[346,379]], labels:[265,400], box:[23,44], wh:[17,51]}},
 {grid:[754.6,88,551.4,426], y:[-0.088,7.39], br:[7.07,6.85], pt:[1.516,6.58], pfs:38.5, shift:[29,20.5],
  letter:[721,29,46], ytitle:[703,267], xtitle:[1056,576,33],
  leg:{ty:22, fs:28, tfs:32, title:778.5, icons:[[880,911],[1042,1071]], labels:[917,1088.5], box:[13.4,32.5], wh:[7,38]}},
 {grid:[1374.7,88,554.3,426.7], y:[-0.086,7.39], br:[7.05,6.85], pt:[1.45,6.65], pfs:31.6, shift:[7.3,14.3],
  letter:[1325,27,46], ytitle:[1324,265], xtitle:[1637.6,583.6,32],
  leg:{ty:23.7, fs:32, tfs:32, title:1391, icons:[[1487,1515],[1697,1725]], labels:[1523,1740], box:[17.2,36.4], wh:[13.4,41.3]}},
 {grid:[59.6,682.1,553.4,425.7], y:[-0.09,7.40], br:[7.08,6.87], pt:[1.47,6.64], pfs:34, shift:[1,1],
  letter:[50,644,46], ytitle:[12,860], xtitle:[324,1156,33],
  leg:{ty:647.4, fs:33, tfs:33, title:166, icons:[[207,245],[355.6,393.8]], labels:[263,416.6], box:[634.7,662], wh:[628.5,668.6]}},
 {grid:[744.9,682.1,551.8,425.7], y:[-0.077,7.41], br:[7.09,6.87], pt:[1.497,6.58], pfs:33.6, shift:[1,10],
  letter:[721.5,638,48], ytitle:[689.5,860], xtitle:[1018,1156,33],
  leg:{ty:649.2, fs:32, tfs:32, title:869.7, icons:[[919.4,961.7],[1050,1092.3]], labels:[986.6,1116.3], box:[634.7,662.7], wh:[626,671]}},
 {grid:[1391.5,689.4,553.5,426.4], y:[-0.09,7.40], br:[7.06,6.87], pt:[1.525,6.53], pfs:34.7, shift:[10,9.5],
  letter:[1343.5,641,48], ytitle:[1340.5,867], xtitle:[1674.5,1163.6,33],
  leg:{ty:646.7, fs:32, tfs:32, title:1499.8, icons:[[1547.5,1585.2],[1665.6,1704.1]], labels:[1607.6,1726], box:[635.4,660.2], wh:[627,669]}}
];

const grids=[], xAxes=[], yAxes=[], series=[], graphics=[];
layout.forEach((L,i)=>{
  grids.push({left:L.grid[0], top:L.grid[1], width:L.grid[2], height:L.grid[3], containLabel:false, outerBoundsMode:'none'});
  const cats = categories[i];
  xAxes.push({type:'value', gridIndex:i, min:0.4, max:2.6, splitLine:{show:false},
    axisLine:{onZero:false, lineStyle:{color:INK, width:2}},
    axisTick:{customValues:[1,2], length:6, lineStyle:{color:INK, width:2}},
    axisLabel:{customValues:[1,2], margin:10, color:INK, fontSize:32, fontFamily:FONT,
      formatter:(v)=> v===1 ? '{s0|'+cats[0]+'}' : '{s1|'+cats[1]+'}',
      rich:{s0:{padding:[0,0,0,2*L.shift[0]], fontSize:32, fontFamily:FONT, color:INK},
            s1:{padding:[0,0,0,2*L.shift[1]], fontSize:32, fontFamily:FONT, color:INK}}}});
  yAxes.push({type:'value', gridIndex:i, min:L.y[0], max:L.y[1], splitLine:{show:false},
    axisLine:{show:true, onZero:false, lineStyle:{color:INK, width:2}},
    axisTick:{show:true, customValues:yTickValues, length:6, lineStyle:{color:INK, width:2}},
    axisLabel:{customValues:yTickValues, margin:9, color:INK, fontSize:32, fontFamily:FONT}});
  panelPoints[i].forEach((pts,g)=>{
    series.push({type:'scatter', xAxisIndex:i, yAxisIndex:i, z:2, symbol:'circle', symbolSize:8.8,
      itemStyle:{color:COLORS[g], opacity:1}, silent:true,
      data: pts.map(p=>[g+1+p[0], p[1]])});
  });
  series.push({type:'custom', xAxisIndex:i, yAxisIndex:i, z:3, silent:true,
    encode:{x:0, y:[1,2,3,4,5]},
    data: panelBoxes[i].map((b,g)=>[g+1].concat(b)),
    renderItem:(params, api)=>{
      const x=api.value(0);
      const lo=api.coord([x,api.value(1)]), q1=api.coord([x,api.value(2)]), md=api.coord([x,api.value(3)]),
            q3=api.coord([x,api.value(4)]), hi=api.coord([x,api.value(5)]);
      const hw = api.size([0.35,0])[0];
      const c = COLORS[params.dataIndex];
      const st = {stroke:c, lineWidth:2, fill:null};
      return {type:'group', children:[
        {type:'line', shape:{x1:q3[0],y1:hi[1],x2:q3[0],y2:q3[1]}, style:st},
        {type:'line', shape:{x1:q1[0],y1:q1[1],x2:q1[0],y2:lo[1]}, style:st},
        {type:'rect', shape:{x:q3[0]-hw, y:q3[1], width:2*hw, height:q1[1]-q3[1]}, style:{stroke:c, lineWidth:2, fill:'none'}},
        {type:'line', shape:{x1:md[0]-hw,y1:md[1],x2:md[0]+hw,y2:md[1]}, style:{stroke:c, lineWidth:3.6}}
      ]};
    }});
  series.push({type:'custom', xAxisIndex:i, yAxisIndex:i, z:4, silent:true,
    data:[[1,2]],
    renderItem:(params, api)=>{
      const a=api.coord([1,L.br[0]]), b=api.coord([2,L.br[0]]);
      const a2=api.coord([1,L.br[1]]), b2=api.coord([2,L.br[1]]);
      const t=api.coord([L.pt[0],L.pt[1]]);
      return {type:'group', children:[
        {type:'polyline', shape:{points:[[a2[0],a2[1]],[a[0],a[1]],[b[0],b[1]],[b2[0],b2[1]]]}, style:{stroke:'#333', lineWidth:1.7, fill:'none'}},
        {type:'text', x:t[0], y:t[1], style:{text:pValues[i], fontSize:L.pfs, fontFamily:FONT, fill:INK, align:'center', verticalAlign:'middle'}}
      ]};
    }});
  graphics.push({type:'text', x:L.letter[0], y:L.letter[1], z:10,
    style:{text:panelLetters[i], fontSize:L.letter[2], fontFamily:FONT, fill:'#231F20', align:'center', verticalAlign:'middle'}});
  graphics.push({type:'text', x:L.ytitle[0], y:L.ytitle[1], rotation:Math.PI/2, z:10,
    style:{text:'Risk score', fontSize:33, fontFamily:FONT, fill:INK, align:'center', verticalAlign:'middle'}});
  graphics.push({type:'text', x:L.xtitle[0], y:L.xtitle[1], z:10,
    style:{text:groupTitles[i], fontSize:L.xtitle[2], fontFamily:FONT, fill:INK, align:'center', verticalAlign:'middle'}});
  const G = L.leg;
  graphics.push({type:'text', x:G.title, y:G.ty, z:10,
    style:{text:groupTitles[i], fontSize:G.tfs, fontFamily:FONT, fill:INK, align:'left', verticalAlign:'middle'}});
  G.icons.forEach((ic,g)=>{
    const c=COLORS[g], cx=(ic[0]+ic[1])/2, cy=(G.box[0]+G.box[1])/2, h=G.box[1]-G.box[0];
    graphics.push({type:'rect', z:11, shape:{x:ic[0]-3, y:G.wh[0], width:ic[1]-ic[0]+6, height:G.wh[1]-G.wh[0]}, style:{fill:'#fff'}});
    graphics.push({type:'line', z:12, shape:{x1:cx,y1:G.wh[0],x2:cx,y2:G.wh[1]}, style:{stroke:c, lineWidth:2}});
    graphics.push({type:'rect', z:13, shape:{x:ic[0], y:G.box[0], width:ic[1]-ic[0], height:h}, style:{fill:'#fff', stroke:c, lineWidth:2}});
    graphics.push({type:'line', z:14, shape:{x1:ic[0],y1:cy,x2:ic[1],y2:cy}, style:{stroke:c, lineWidth:2}});
    graphics.push({type:'circle', z:15, shape:{cx:cx, cy:cy, r:h*0.22}, style:{fill:c}});
    graphics.push({type:'text', x:G.labels[g], y:G.ty, z:10,
      style:{text:cats[g], fontSize:G.fs, fontFamily:FONT, fill:INK, align:'left', verticalAlign:'middle'}});
  });
});

const chart = echarts.init(document.getElementById('c'), null, {renderer:'canvas'});
chart.setOption({
  backgroundColor:'#fff', animation:false,
  grid:grids, xAxis:xAxes, yAxis:yAxes, series:series, graphic:graphics
});
</script>
</body></html>
